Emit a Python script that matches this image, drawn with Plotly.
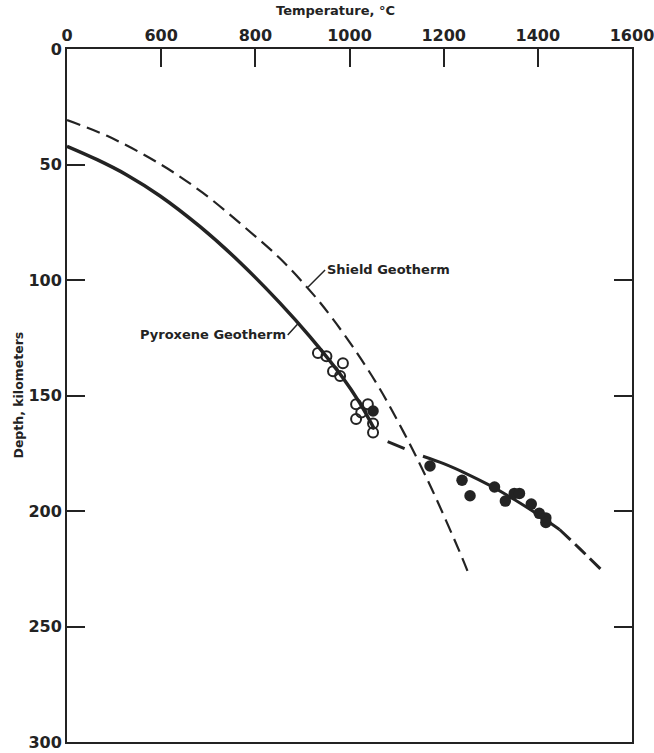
import plotly.graph_objects as go

# ---- data ----
pyroxene_T = [400, 464, 527, 597, 682, 767, 852, 915, 985, 1021, 1053]
pyroxene_D = [42.1, 47.9, 54.5, 63.5, 76.8, 92.3, 109.9, 124.3, 142.1, 153, 164.6]

shield_T = [400, 485, 597, 688, 773, 852, 922, 964, 1015, 1057, 1085, 1134, 1176, 1240, 1255]
shield_D = [30.8, 37.6, 49.7, 62.2, 76.4, 90.6, 106, 116.7, 131.3, 144.6, 154.5, 173.4, 191, 220.6, 228.3]

lower_left_T = [1081, 1117]
lower_left_D = [170, 173]
lower_solid_T = [1156, 1200, 1250, 1297, 1350, 1400, 1446]
lower_solid_D = [176.3, 179.5, 184, 188.8, 195, 201.5, 208]
lower_right_T = [1446, 1490, 1541]
lower_right_D = [208, 216.5, 226.7]

open_T = [933, 951, 965, 986, 980, 1014, 1039, 1025, 1014, 1050, 1050]
open_D = [131.6, 133, 139.5, 136, 141.6, 153.8, 153.8, 157.4, 160.2, 162.1, 166]

filled_T = [1050, 1171, 1239, 1256, 1308, 1331, 1350, 1361, 1386, 1403, 1417, 1417]
filled_D = [156.7, 180.5, 186.7, 193.4, 189.6, 195.7, 192.4, 192.4, 197, 201, 203, 205]

x_tickvals = [400, 600, 800, 1000, 1200, 1400, 1600]
x_ticktext = ["0", "600", "800", "1000", "1200", "1400", "1600"]
y_tickvals = [0, 50, 100, 150, 200, 250, 300]
y_right_ticks = [100, 150, 200, 250]

INK = "#232323"
FONT = "DejaVu Sans"

fig = go.Figure()

fig.add_trace(go.Scatter(x=shield_T, y=shield_D, mode="lines",
                         line=dict(color=INK, width=2.2, dash="14px,7px", shape="spline", smoothing=1.0)))
fig.add_trace(go.Scatter(x=pyroxene_T, y=pyroxene_D, mode="lines",
                         line=dict(color=INK, width=3.5, shape="spline", smoothing=1.0)))
fig.add_trace(go.Scatter(x=lower_left_T, y=lower_left_D, mode="lines",
                         line=dict(color=INK, width=3)))
fig.add_trace(go.Scatter(x=lower_solid_T, y=lower_solid_D, mode="lines",
                         line=dict(color=INK, width=3, shape="spline", smoothing=1.0)))
fig.add_trace(go.Scatter(x=lower_right_T, y=lower_right_D, mode="lines",
                         line=dict(color=INK, width=3, dash="15px,6px", shape="spline")))
fig.add_trace(go.Scatter(x=open_T, y=open_D, mode="markers",
                         marker=dict(symbol="circle-open", size=10, color=INK, line=dict(width=2, color=INK))))
fig.add_trace(go.Scatter(x=filled_T, y=filled_D, mode="markers",
                         marker=dict(symbol="circle", size=11.5, color=INK)))
# invisible trace to activate the right-hand axis
fig.add_trace(go.Scatter(x=[None], y=[None], yaxis="y2", showlegend=False))

fig.update_layout(
    width=654, height=753,
    margin=dict(l=67, r=22, t=49, b=11, autoexpand=False),
    paper_bgcolor="white", plot_bgcolor="white",
    showlegend=False,
    font=dict(family=FONT, color=INK),
    xaxis=dict(range=[400, 1600], side="top", tickvals=x_tickvals, ticktext=x_ticktext,
               ticks="inside", ticklen=18, tickwidth=2, tickcolor=INK,
               showline=True, linewidth=2, linecolor=INK, mirror=True,
               showgrid=False, zeroline=False, ticklabeloverflow="allow", automargin=False,
               tickfont=dict(family=FONT, size=16, color=INK, weight="bold")),
    yaxis=dict(range=[300, 0], tickvals=y_tickvals,
               ticks="inside", ticklen=18, tickwidth=2, tickcolor=INK,
               showline=True, linewidth=2, linecolor=INK, mirror=True,
               showgrid=False, zeroline=False, ticklabeloverflow="allow", automargin=False,
               tickfont=dict(family=FONT, size=16, color=INK, weight="bold")),
    yaxis2=dict(range=[300, 0], overlaying="y", side="right", tickvals=y_right_ticks,
                ticks="inside", ticklen=18, tickwidth=2, tickcolor=INK, automargin=False,
                showticklabels=False, showgrid=False, zeroline=False, showline=False),
)

fig.add_annotation(text="<b>Temperature, °C</b>", xref="paper", yref="paper",
                   x=(335 - 67) / 565, y=1.0, yshift=49 - 10, xanchor="center", yanchor="middle",
                   showarrow=False, font=dict(family=FONT, size=13, color=INK))
fig.add_annotation(text="<b>Depth, kilometers</b>", xref="paper", yref="paper",
                   x=(18 - 67) / 565, y=0.5, xanchor="center", yanchor="middle", textangle=-90,
                   showarrow=False, font=dict(family=FONT, size=12.5, color=INK))
fig.add_annotation(text="<b>Shield Geotherm</b>", x=912, y=103, ax=17, ay=-17,
                   xanchor="left", yanchor="middle", showarrow=True, arrowhead=0,
                   arrowwidth=1.5, arrowcolor=INK, font=dict(family=FONT, size=13, color=INK))
fig.add_annotation(text="<b>Pyroxene Geotherm</b>", x=890, y=119, ax=-10, ay=11,
                   xanchor="right", yanchor="middle", showarrow=True, arrowhead=0,
                   arrowwidth=1.5, arrowcolor=INK, font=dict(family=FONT, size=13, color=INK))

fig.write_html("out.html")
